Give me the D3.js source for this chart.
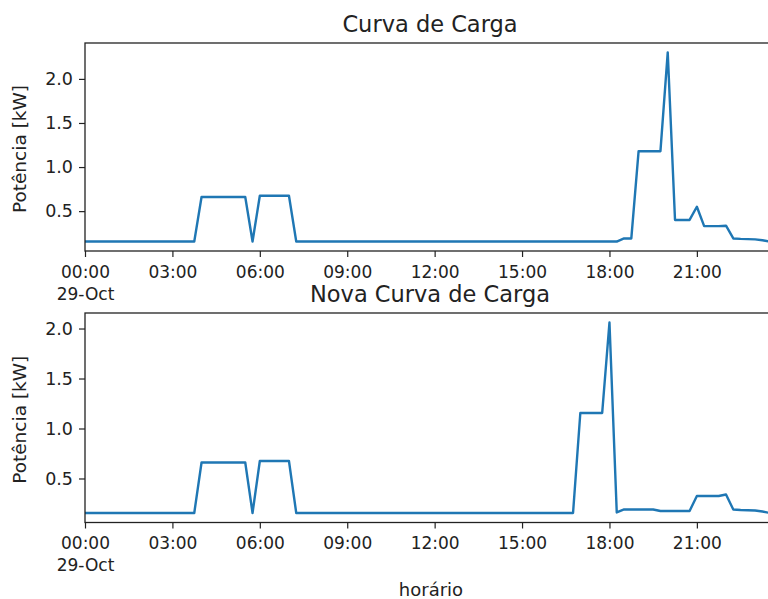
<!DOCTYPE html>
<html>
<head>
<meta charset="utf-8">
<script src="https://cdn.jsdelivr.net/npm/d3@7"></script>
<style>
	body { margin: 0; background: #fff; }
	svg { display: block; }
	text { font-family: "DejaVu Sans", sans-serif; fill: #222; }
</style>
</head>
<body>
<svg id="chart"></svg>
<script>
const width = 768
const height = 599

// 15 minute readings on 29-Oct, 00:00 .. 23:45
const startTime = new Date(2019, 9, 29, 0, 0)
const endTime = new Date(2019, 9, 29, 23, 45)
const times = d3.timeMinute.every(15).range(startTime, d3.timeMinute.offset(endTime, 1))

// Curva de Carga (kW), one row = 2 hours
const originalLoad = [
	0.155, 0.155, 0.155, 0.155, 0.155, 0.155, 0.155, 0.155,
	0.155, 0.155, 0.155, 0.155, 0.155, 0.155, 0.155, 0.155,
	0.66, 0.66, 0.66, 0.66, 0.66, 0.66, 0.66, 0.155,
	0.675, 0.675, 0.675, 0.675, 0.675, 0.155, 0.155, 0.155,
	0.155, 0.155, 0.155, 0.155, 0.155, 0.155, 0.155, 0.155,
	0.155, 0.155, 0.155, 0.155, 0.155, 0.155, 0.155, 0.155,
	0.155, 0.155, 0.155, 0.155, 0.155, 0.155, 0.155, 0.155,
	0.155, 0.155, 0.155, 0.155, 0.155, 0.155, 0.155, 0.155,
	0.155, 0.155, 0.155, 0.155, 0.155, 0.155, 0.155, 0.155,
	0.155, 0.155, 0.19, 0.19, 1.18, 1.18, 1.18, 1.18,
	2.30, 0.40, 0.40, 0.40, 0.55, 0.33, 0.33, 0.33,
	0.335, 0.19, 0.185, 0.183, 0.18, 0.17, 0.155, 0.155
]

// Nova Curva de Carga (kW), one row = 2 hours
const newLoad = [
	0.155, 0.155, 0.155, 0.155, 0.155, 0.155, 0.155, 0.155,
	0.155, 0.155, 0.155, 0.155, 0.155, 0.155, 0.155, 0.155,
	0.66, 0.66, 0.66, 0.66, 0.66, 0.66, 0.66, 0.155,
	0.675, 0.675, 0.675, 0.675, 0.675, 0.155, 0.155, 0.155,
	0.155, 0.155, 0.155, 0.155, 0.155, 0.155, 0.155, 0.155,
	0.155, 0.155, 0.155, 0.155, 0.155, 0.155, 0.155, 0.155,
	0.155, 0.155, 0.155, 0.155, 0.155, 0.155, 0.155, 0.155,
	0.155, 0.155, 0.155, 0.155, 0.155, 0.155, 0.155, 0.155,
	0.155, 0.155, 0.155, 0.155, 1.155, 1.155, 1.155, 1.155,
	2.06, 0.16, 0.19, 0.19, 0.19, 0.19, 0.19, 0.175,
	0.175, 0.175, 0.175, 0.175, 0.325, 0.325, 0.325, 0.325,
	0.34, 0.19, 0.185, 0.183, 0.18, 0.17, 0.155, 0.155
]

const yTicks = [0.5, 1.0, 1.5, 2.0]
const titles = ["Curva de Carga", "Nova Curva de Carga"]
const yLabel = "Potência [kW]"
const xLabel = "horário"

const panels = [
	{ title: titles[0], values: originalLoad, top: 43, bottom: 251 },
	{ title: titles[1], values: newLoad, top: 313, bottom: 522.5 }
]

const plotLeft = 85
const plotRight = 777   // the right spine lies just outside the window

const svg = d3.select("#chart")
	.attr("width", width)
	.attr("height", height)

const x = d3.scaleTime()
	.domain([startTime, endTime])
	.range([plotLeft, plotRight])

const xTickValues = d3.timeHour.every(3).range(startTime, endTime)
const formatHour = d3.timeFormat("%H:%M")
const formatDay = d3.timeFormat("%d-%b")

function drawPanel(panel) {
	// matplotlib style 5% margins
	const [lo, hi] = d3.extent(panel.values)
	const pad = (hi - lo) * 0.05
	const y = d3.scaleLinear()
		.domain([lo - pad, hi + pad])
		.range([panel.bottom, panel.top])

	const g = svg.append("g")

	const line = d3.line()
		.x((d, i) => x(times[i]))
		.y(d => y(d))

	g.append("path")
		.datum(panel.values)
		.attr("fill", "none")
		.attr("stroke", "#1f77b4")
		.attr("stroke-width", 2.4)
		.attr("stroke-linejoin", "round")
		.attr("d", line)

	// axes box
	g.append("rect")
		.attr("x", plotLeft)
		.attr("y", panel.top)
		.attr("width", plotRight - plotLeft)
		.attr("height", panel.bottom - panel.top)
		.attr("fill", "none")
		.attr("stroke", "#222")
		.attr("stroke-width", 1.3)

	const yAxis = g.append("g")
		.attr("transform", `translate(${plotLeft},0)`)
		.call(d3.axisLeft(y).tickValues(yTicks).tickFormat(d3.format(".1f")).tickSize(6).tickPadding(6))
	yAxis.select(".domain").remove()
	yAxis.selectAll("line").attr("stroke", "#222").attr("stroke-width", 1.2)
	yAxis.selectAll("text")
		.attr("font-size", 17.5)
		.attr("font-family", "DejaVu Sans")
		.attr("fill", "#222")

	const xAxis = g.append("g")
		.attr("transform", `translate(0,${panel.bottom})`)
		.call(d3.axisBottom(x).tickValues(xTickValues).tickFormat(formatHour).tickSize(6).tickPadding(3))
	xAxis.select(".domain").remove()
	xAxis.selectAll("line").attr("stroke", "#222").attr("stroke-width", 1.2)
	xAxis.selectAll("text")
		.attr("font-size", 17)
		.attr("font-family", "DejaVu Sans")
		.attr("fill", "#222")
		.attr("dy", "1.05em")
		.each(function(d, i) {
			if (i === 0) {
				d3.select(this).text(null)
				d3.select(this).append("tspan").attr("x", 0).text(formatHour(d))
				d3.select(this).append("tspan").attr("x", 0).attr("dy", "1.3em").text(formatDay(d))
			}
		})

	svg.append("text")
		.attr("x", (plotLeft + plotRight) / 2 - 1)
		.attr("y", panel.top - 11)
		.attr("text-anchor", "middle")
		.attr("font-size", 22.5)
		.text(panel.title)

	svg.append("text")
		.attr("transform", `translate(26,${(panel.top + panel.bottom) / 2 + 2}) rotate(-90)`)
		.attr("text-anchor", "middle")
		.attr("font-size", 18.5)
		.text(yLabel)
}

panels.forEach(drawPanel)

svg.append("text")
	.attr("x", (plotLeft + plotRight) / 2)
	.attr("y", 596)
	.attr("text-anchor", "middle")
	.attr("font-size", 18)
	.text(xLabel)
</script>
</body>
</html>
